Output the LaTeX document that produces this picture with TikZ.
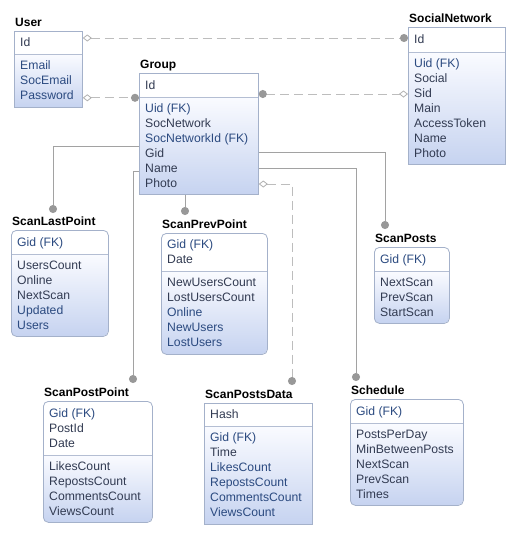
\documentclass[tikz,border=0pt]{standalone}
\usepackage{fontspec}
\setmainfont{Liberation Sans}
\usetikzlibrary{arrows.meta,calc}
\definecolor{txtdark}{HTML}{323B52}
\definecolor{txtblue}{HTML}{2B4A80}
\definecolor{bordercol}{HTML}{A4B1CA}
\definecolor{sepcol}{HTML}{B4BED3}
\definecolor{bodytop}{HTML}{FAFBFF}
\definecolor{bodybot}{HTML}{C6D3F0}
\definecolor{linegray}{HTML}{A2A2A2}
\definecolor{dashgray}{HTML}{BDBDBD}
\definecolor{dotgray}{HTML}{989898}
\definecolor{diagray}{HTML}{B0B0B0}
\newcommand\LS{\rule[-3.5pt]{0pt}{15pt}}
\newcommand\bl[1]{\textcolor{txtblue}{#1}}
\tikzset{
  erdot/.tip={Circle[length=8pt,color=dotgray,fill=dotgray]},
  erdia/.tip={Diamond[length=9pt,width=7pt,color=diagray,fill=white,line width=0.8pt]},
  entbox/.style={draw=bordercol,line width=0.8pt,inner sep=0pt,anchor=north west},
  sepline/.style={draw=sepcol,line width=0.9pt},
  enttitle/.style={anchor=base west,inner sep=0pt,font=\bfseries\fontsize{12}{14}\selectfont,text=black},
  etext/.style={anchor=west,align=left,inner sep=0pt,font=\fontsize{12.2}{15}\selectfont,text=txtdark},
  idline/.style={draw=linegray,line width=0.9pt},
  nonid/.style={draw=dashgray,line width=1pt,dash pattern=on 9pt off 5pt},
}
% #1 name, #2 corner style, #3 L, #4 T, #5 R, #6 S (separator), #7 B, #8 title
\newcommand\erent[8]{%
  \begin{scope}
    \clip[#2] (#3,#4) rectangle (#5,#7);
    \fill[white] (#3,#4) rectangle (#5,#6);
    \shade[top color=bodytop,bottom color=bodybot] (#3,#6) rectangle (#5,#7);
  \end{scope}
  \draw[sepline] (#3,#6) -- (#5,#6);
  \node[entbox,#2,minimum width={(#5-#3)*1pt},minimum height={(#7-#4)*1pt}] (#1) at (#3,#4) {};
  \node[enttitle] (#1-t) at ({#3+1},{#4-5}) {#8};
  \coordinate (#1-kc) at ({#3+6},{(#4+#6)/2});
  \coordinate (#1-ac) at ({#3+6},{(#6+#7)/2});
}
\begin{document}
\begin{tikzpicture}[x=1pt,y=-1pt]
\useasboundingbox (0,0) rectangle (513,536);
\fill[white] (0,0) rectangle (513,536);

% ---- entities ----
\erent{user}{sharp corners}{14}{31}{82}{54}{107}{User}
\node[etext] (user-k) at (user-kc) {\LS Id};
\node[etext] (user-a) at (user-ac) {\LS\bl{Email}\\\LS\bl{SocEmail}\\\LS\bl{Password}};

\erent{group}{sharp corners}{139}{73}{258}{97}{194}{Group}
\node[etext] (group-k) at (group-kc) {\LS Id};
\node[etext] (group-a) at (group-ac) {\LS\bl{Uid (FK)}\\\LS SocNetwork\\\LS\bl{SocNetworkId (FK)}\\\LS Gid\\\LS Name\\\LS Photo};

\erent{sn}{sharp corners}{408}{27}{505}{52}{164}{SocialNetwork}
\node[etext] (sn-k) at (sn-kc) {\LS Id};
\node[etext] (sn-a) at (sn-ac) {\LS\bl{Uid (FK)}\\\LS Social\\\LS Sid\\\LS Main\\\LS AccessToken\\\LS Name\\\LS Photo};

\erent{slp}{rounded corners=5pt}{11}{230}{108}{254}{336}{ScanLastPoint}
\node[etext] (slp-k) at (slp-kc) {\LS\bl{Gid (FK)}};
\node[etext] (slp-a) at (slp-ac) {\LS UsersCount\\\LS Online\\\LS NextScan\\\LS\bl{Updated}\\\LS\bl{Users}};

\erent{spp}{rounded corners=5pt}{161}{233}{267}{271}{354}{ScanPrevPoint}
\node[etext] (spp-k) at (spp-kc) {\LS\bl{Gid (FK)}\\\LS Date};
\node[etext] (spp-a) at (spp-ac) {\LS NewUsersCount\\\LS LostUsersCount\\\LS\bl{Online}\\\LS\bl{NewUsers}\\\LS\bl{LostUsers}};

\erent{sps}{rounded corners=5pt}{374}{247}{449}{271}{323}{ScanPosts}
\node[etext] (sps-k) at (sps-kc) {\LS\bl{Gid (FK)}};
\node[etext] (sps-a) at (sps-ac) {\LS NextScan\\\LS PrevScan\\\LS StartScan};

\erent{spt}{rounded corners=5pt}{43}{401}{152}{455}{522}{ScanPostPoint}
\node[etext] (spt-k) at (spt-kc) {\LS\bl{Gid (FK)}\\\LS PostId\\\LS Date};
\node[etext] (spt-a) at (spt-ac) {\LS LikesCount\\\LS RepostsCount\\\LS CommentsCount\\\LS ViewsCount};

\erent{spd}{sharp corners}{204}{403}{312}{426}{524}{ScanPostsData}
\node[etext] (spd-k) at (spd-kc) {\LS Hash};
\node[etext] (spd-a) at (spd-ac) {\LS\bl{Gid (FK)}\\\LS Time\\\LS\bl{LikesCount}\\\LS\bl{RepostsCount}\\\LS\bl{CommentsCount}\\\LS\bl{ViewsCount}};

\erent{sch}{rounded corners=5pt}{350}{399}{463}{423}{505}{Schedule}
\node[etext] (sch-k) at (sch-kc) {\LS\bl{Gid (FK)}};
\node[etext] (sch-a) at (sch-ac) {\LS PostsPerDay\\\LS MinBetweenPosts\\\LS NextScan\\\LS PrevScan\\\LS Times};

% ---- connectors ----
\coordinate (c1) at ($(user.north east)+(0,7)$);
\draw[nonid,erdia-erdot] (c1) -- (c1 -| sn.west);

\coordinate (c2) at ($(user.south east)+(0,-10)$);
\draw[nonid,erdia-erdot] (c2) -- (c2 -| group.west);

\coordinate (c3) at ($(group.north east)+(0,21)$);
\draw[nonid,erdot-erdia] (c3) -- (c3 -| sn.west);

\coordinate (c4) at ($(group.north west)+(0,73)$);
\draw[idline,-erdot] (c4) -| ($(slp.north west)+(42,-17)$);

\draw[idline,-erdot] ($(group.south west)+(46,0)$) -- ($(spp.north west)+(24,-18)$);

\coordinate (c6) at ($(group.north west)+(0,98)$);
\draw[idline,-erdot] (c6) -| ($(spt.north west)+(90,-18)$);

\coordinate (c7) at ($(group.north east)+(0,111)$);
\draw[nonid,erdia-erdot] (c7) -| ($(spd.north west)+(88,-18)$);

\coordinate (c8) at ($(group.north east)+(0,79)$);
\draw[idline,-erdot] (c8) -| ($(sps.north west)+(11,-18)$);

\coordinate (c9) at ($(group.north east)+(0,95)$);
\draw[idline,-erdot] (c9) -| ($(sch.north west)+(6,-18)$);
\end{tikzpicture}
\end{document}
